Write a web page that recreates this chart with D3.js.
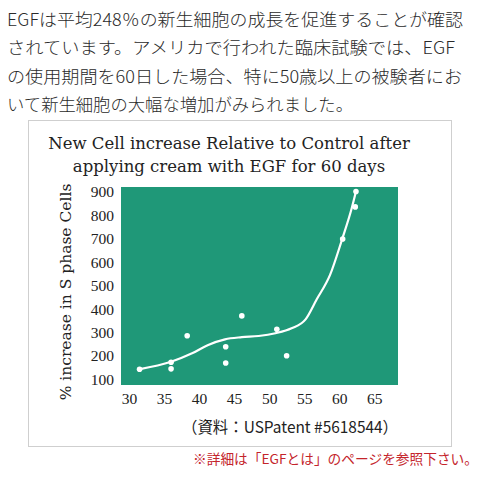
<!DOCTYPE html>
<html><head><meta charset="utf-8">
<script src="https://cdn.jsdelivr.net/npm/d3@7"></script>
<style>html,body{margin:0;padding:0;background:#fff;}svg{display:block;}</style>
</head><body>
<svg id="c" width="480" height="480"></svg>
<script>
const introLines = [
  "EGFは平均248％の新生細胞の成長を促進することが確認",
  "されています。アメリカで行われた臨床試験では、EGF",
  "の使用期間を60日した場合、特に50歳以上の被験者にお",
  "いて新生細胞の大幅な増加がみられました。"
];
const titleLines = ["New Cell increase Relative to Control after", "applying cream with EGF for 60 days"];
const yLabel = "% increase in S phase Cells";
const sourceText = "（資料：USPatent #5618544）";
const noteText = "※詳細は「EGFとは」のページを参照下さい。";

const xTicks = [30, 35, 40, 45, 50, 55, 60, 65];
const yTicks = [100, 200, 300, 400, 500, 600, 700, 800, 900];

const pointAges   = [31.5, 36, 36, 38.3, 43.8, 43.8, 46.1, 51.1, 52.5, 60.5, 62.3, 62.4];
const pointValues = [143, 173, 145, 286, 239, 170, 371, 314, 201, 699, 836, 902];

const curveAges   = [31.4, 36.0, 39.0, 41.3, 43.7, 46.1, 48.5, 50.9, 53.2, 55.2, 56.8, 58.7, 60.4, 61.8, 62.4];
const curveValues = [143, 175, 211, 247, 271, 280, 285, 297, 318, 356, 442, 546, 696, 831, 902];

const svg = d3.select("#c");

// intro text
const introWidths = [456, 448, 455, 346];
svg.append("g").selectAll("text").data(introLines).join("text")
  .attr("x", 7).attr("y", (d, i) => 26 + i * 28.3)
  .attr("font-family", "'Noto Sans CJK JP', sans-serif")
  .attr("font-size", 17).attr("font-weight", 300)
  .attr("fill", "#2a2a2a")
  .attr("textLength", (d, i) => introWidths[i])
  .attr("lengthAdjust", "spacingAndGlyphs")
  .text(d => d);

// frame
svg.append("rect").attr("x", 28.5).attr("y", 120.5).attr("width", 423).attr("height", 326)
  .attr("fill", "#fff").attr("stroke", "#cfcfcf").attr("stroke-width", 1);

// title
svg.append("g").selectAll("text").data(titleLines).join("text")
  .attr("x", 229).attr("y", (d, i) => 149 + i * 23)
  .attr("text-anchor", "middle")
  .attr("font-family", "'DejaVu Serif', serif")
  .attr("font-size", 16.5)
  .attr("fill", "#222")
  .text(d => d);

const x = d3.scaleLinear().domain([28.85, 68.4]).range([121, 398]);
const y = d3.scaleLinear().domain([76, 921]).range([385, 187]);

// plot background
svg.append("rect").attr("x", x.range()[0]).attr("y", y.range()[1])
  .attr("width", x.range()[1] - x.range()[0]).attr("height", y.range()[0] - y.range()[1])
  .attr("fill", "#1f9878");

// axes (labels only)
const xAxis = svg.append("g").attr("transform", `translate(0,${y.range()[0]})`)
  .call(d3.axisBottom(x).tickValues(xTicks).tickSize(0).tickPadding(8));
const yAxis = svg.append("g").attr("transform", `translate(${x.range()[0]},0)`)
  .call(d3.axisLeft(y).tickValues(yTicks).tickSize(0).tickPadding(7));
[xAxis, yAxis].forEach(a => {
  a.select(".domain").remove();
  a.selectAll("text").attr("font-family", "'Liberation Serif', serif")
    .attr("font-size", 15.5).attr("fill", "#222");
});

// y label
svg.append("text")
  .attr("transform", "translate(71,292) rotate(-90)")
  .attr("text-anchor", "middle")
  .attr("font-family", "'DejaVu Serif', serif")
  .attr("font-size", 15.5).attr("fill", "#222")
  .text(yLabel);

// curve
const line = d3.line().x(d => x(d[0])).y(d => y(d[1])).curve(d3.curveMonotoneX);
svg.append("path").datum(curveAges.map((a, i) => [a, curveValues[i]]))
  .attr("d", line).attr("fill", "none").attr("stroke", "#fff").attr("stroke-width", 2.2);

// points
svg.append("g").selectAll("circle").data(pointAges.map((a, i) => [a, pointValues[i]])).join("circle")
  .attr("cx", d => x(d[0])).attr("cy", d => y(d[1])).attr("r", 2.8).attr("fill", "#fff");

// source
svg.append("text").attr("x", 290).attr("y", 433).attr("text-anchor", "middle")
  .attr("font-family", "'Noto Sans CJK JP', sans-serif").attr("font-size", 16)
  .attr("fill", "#222").attr("textLength", 216).attr("lengthAdjust", "spacingAndGlyphs")
  .text(sourceText);

// note
svg.append("text").attr("x", 193).attr("y", 464)
  .attr("font-family", "'Noto Sans CJK JP', sans-serif").attr("font-size", 13.5)
  .attr("fill", "#c4242b").attr("textLength", 285).attr("lengthAdjust", "spacingAndGlyphs")
  .text(noteText);
</script>
</body></html>
